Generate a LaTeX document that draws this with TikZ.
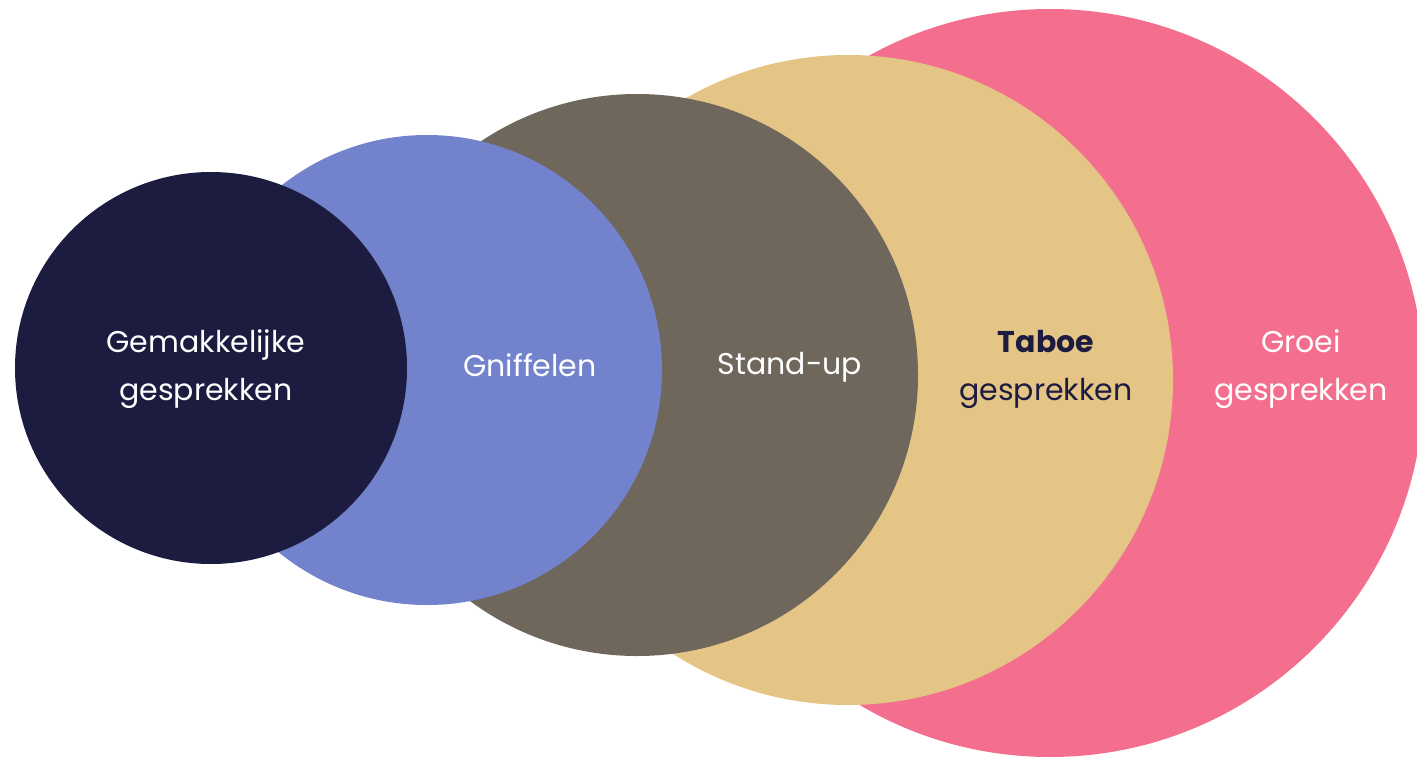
\documentclass[tikz,border=0pt]{standalone}
\usepackage{fontspec}
\setmainfont{Poppins}
\usepackage{tikz, xcolor}
\definecolor{navy}{HTML}{1C1B40}
\definecolor{lavender}{HTML}{7282CC}
\definecolor{taupe}{HTML}{6F675B}
\definecolor{sand}{HTML}{E4C586}
\definecolor{rose}{HTML}{F46F8E}
\tikzset{label text/.style = {align=center, text=white, font=\fontsize{15}{24}\selectfont}}

\begin{document}
\begin{tikzpicture}[x=0.5pt, y=0.5pt]
\useasboundingbox (0,0) rectangle (1417,757);
\clip (0,0) rectangle (1417,757);
% circles, back to front
\fill [rose] (1050,374) circle [radius=374];
\fill [sand] (848,377) circle [radius=325];
\fill [taupe] (637,382) circle [radius=281];
\fill [lavender] (427,387) circle [radius=235];
\fill [navy] (211,389) circle [radius=196];
% labels
\node [label text] (gemak) at (206,388) {Gemakkelijke\\gesprekken};
\node [label text] (gniffel) at (530,392) {Gniffelen};
\node [label text] (standup) at (790,390) {Stand-up};
\node [label text, text=navy] (taboe) at (1046,388) {\textbf{Taboe}\\gesprekken};
\node [label text] (groei) at (1301,388) {Groei\\gesprekken};
\end{tikzpicture}
\end{document}
